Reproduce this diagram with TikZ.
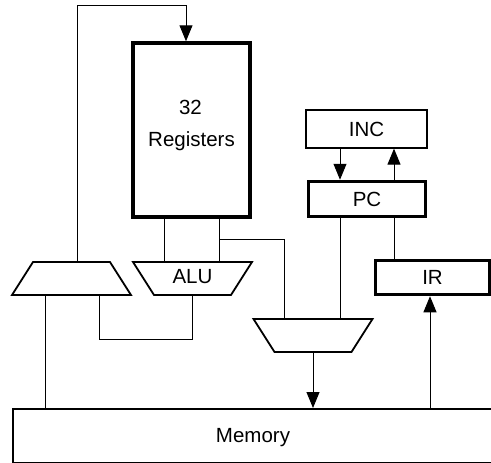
\documentclass[tikz,border=0pt]{standalone}
\usepackage{fontspec}
\setmainfont{Liberation Sans}
\usetikzlibrary{arrows.meta,shapes.geometric}
\begin{document}
\begin{tikzpicture}[x=1pt,y=-1pt,
  lbl/.style={font=\fontsize{20.5}{24}\selectfont},
  box/.style={draw,rectangle,inner sep=0pt,lbl},
  thickbox/.style={box,line width=3.5pt},
  thinbox/.style={box,line width=1.3pt},
  muxshape/.style={draw,trapezium,trapezium left angle=57.5,trapezium right angle=57.5,
    trapezium stretches body,minimum width=119pt,text height=10pt,text depth=0pt,
    inner xsep=0pt,inner ysep=11.5pt,line width=1.8pt,lbl},
  invmux/.style={muxshape,shape border rotate=180},
  wire/.style={line width=1pt},
  arr/.style={wire,-{Triangle[length=16pt,width=13pt]}}
]
\useasboundingbox (0,0) rectangle (491,463);
\clip (0,0) rectangle (491,463);

% register file and datapath units
\node[thickbox,minimum width=117pt,minimum height=174pt] (reg) at (191.5,130) {};
\node[lbl,anchor=base,inner sep=0pt] (regnum) at (190.5,114.3) {32};
\node[lbl,anchor=base,inner sep=0pt] (regname) at (191.5,146.7) {Registers};

\node[muxshape] (lmux) at (71.5,278.5) {};
\node[invmux] (alu) at (192.5,278.5) {ALU};
\node[invmux] (bmux) at (313,335.5) {};

\node[thinbox,minimum width=121pt,minimum height=38pt] (inc) at (366.5,129) {INC};
\node[thickbox,minimum width=117pt,minimum height=35pt] (pc) at (367,199) {PC};
\node[thickbox,minimum width=114pt,minimum height=34pt] (ir) at (432.5,277.5) {IR};

\node[draw,rectangle,line width=1.8pt,anchor=north west,minimum width=540pt,
  minimum height=54pt] (mem) at (12,408) {};
\node[lbl,anchor=base,inner sep=0pt] (memname) at (253,442.7) {Memory};

% wire routing points
\coordinate (loopL) at (77,5);
\coordinate (loopR) at (186,5);
\coordinate (ra) at (164,0);
\coordinate (rb) at (219,0);
\coordinate (br) at (284,239);
\coordinate (lo) at (45,0);
\coordinate (fb) at (99,339);
\coordinate (pa) at (340,0);
\coordinate (pb) at (394,0);
\coordinate (ma) at (430,0);

% connections
\draw[arr] (lmux.north -| loopL) -- (loopL) -- (loopR) -- (loopR |- reg.north);
\draw[wire] (reg.south -| ra) -- (alu.north -| ra);
\draw[wire] (reg.south -| rb) -- (alu.north -| rb);
\draw[wire] (br -| rb) -- (br) -- (br |- bmux.north);
\draw[wire] (lmux.south -| lo) -- (mem.north -| lo);
\draw[wire] (lmux.south -| fb) -- (fb) -- (fb -| alu.south) -- (alu.south);
\draw[arr] (bmux.south) -- (bmux.south |- mem.north);
\draw[arr] (inc.south -| pa) -- (pc.north -| pa);
\draw[arr] (pc.north -| pb) -- (inc.south -| pb);
\draw[wire] (pc.south -| pa) -- (bmux.north -| pa);
\draw[wire] (pc.south -| pb) -- (ir.north -| pb);
\draw[arr] (mem.north -| ma) -- (ir.south -| ma);
\end{tikzpicture}
\end{document}
